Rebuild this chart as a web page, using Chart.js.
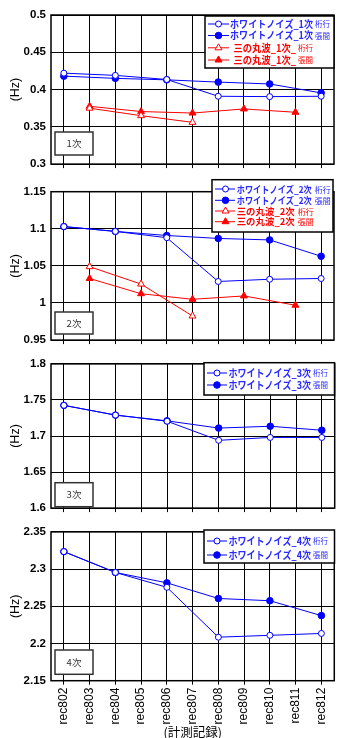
<!DOCTYPE html>
<html>
<head>
<meta charset="utf-8">
<script src="https://cdn.jsdelivr.net/npm/chart.js@4/dist/chart.umd.min.js"></script>
<style>
  html, body { margin: 0; padding: 0; background: #fff; }
  #wrap { position: relative; width: 339px; height: 738px; overflow: hidden; }
  #wrap canvas { position: absolute; left: 0; }
</style>
</head>
<body>
<div id="wrap">
  <canvas id="c1"></canvas>
  <canvas id="c2"></canvas>
  <canvas id="c3"></canvas>
  <canvas id="c4"></canvas>
</div>
<script>
// ---- data -------------------------------------------------------------
const records = ['rec802', 'rec803', 'rec804', 'rec805', 'rec806', 'rec807',
                 'rec808', 'rec809', 'rec810', 'rec811', 'rec812'];
const modeLabels = ['1次', '2次', '3次', '4次'];
const yTitle = '(Hz)';
const xTitle = '(計測記録)';

const hzTicks1 = [0.3, 0.35, 0.4, 0.45, 0.5];
const hzTicks2 = [0.95, 1, 1.05, 1.1, 1.15];
const hzTicks3 = [1.6, 1.65, 1.7, 1.75, 1.8];
const hzTicks4 = [2.15, 2.2, 2.25, 2.3, 2.35];

// 1次
const wn1Keta = [0.422, null, 0.419, null, 0.4135, null, 0.391, null, 0.3905, null, 0.391];
const wn1Hari = [0.418, null, 0.415, null, 0.413, null, 0.410, null, 0.4075, null, 0.3955];
const sm1Keta = [null, 0.375, null, 0.365, null, 0.356, null, null, null, null, null];
const sm1Hari = [null, 0.3775, null, 0.3705, null, 0.3685, null, 0.374, null, 0.3695, null];
const names1 = [['ホワイトノイズ_1次', '桁行'], ['ホワイトノイズ_1次', '張間'],
                ['三の丸波_1次_', '桁行'], ['三の丸波_1次_', '張間']];

// 2次
const wn2Keta = [1.103, null, 1.0965, null, 1.088, null, 1.029, null, 1.032, null, 1.033];
const wn2Hari = [1.103, null, 1.0965, null, 1.091, null, 1.087, null, 1.085, null, 1.063];
const sm2Keta = [null, 1.049, null, 1.0255, null, 0.9825, null, null, null, null, null];
const sm2Hari = [null, 1.033, null, 1.0125, null, 1.005, null, 1.0095, null, 0.997, null];
const names2 = [['ホワイトノイズ_2次', '桁行'], ['ホワイトノイズ_2次', '張間'],
                ['三の丸波_2次', '桁行'], ['三の丸波_2次', '張間']];

// 3次
const wn3Keta = [1.7425, null, 1.729, null, 1.7205, null, 1.694, null, 1.698, null, 1.698];
const wn3Hari = [1.7425, null, 1.729, null, 1.721, null, 1.711, null, 1.7135, null, 1.708];
const names3 = [['ホワイトノイズ_3次', '桁行'], ['ホワイトノイズ_3次', '張間']];

// 4次
const wn4Keta = [2.3235, null, 2.2955, null, 2.2755, null, 2.2085, null, 2.211, null, 2.2135];
const wn4Hari = [2.3235, null, 2.2955, null, 2.2815, null, 2.2605, null, 2.2575, null, 2.2375];
const names4 = [['ホワイトノイズ_4次', '桁行'], ['ホワイトノイズ_4次', '張間']];

// ---- styles -----------------------------------------------------------
const BLUE = '#0000ff';
const RED = '#ff0000';
const LEGEND_BLUE = '#2a2aff';
const CJK = '"Noto Sans CJK JP", sans-serif';
const SANS = '"Liberation Sans", Arial, sans-serif';

const seriesStyle = {
  wnOpen:   { color: BLUE, text: LEGEND_BLUE, fill: '#ffffff', shape: 'circle',   r: 3 },
  wnFilled: { color: BLUE, text: LEGEND_BLUE, fill: BLUE,      shape: 'circle',   r: 3.3 },
  smOpen:   { color: RED,  text: RED,         fill: '#ffffff', shape: 'triangle', r: 4 },
  smFilled: { color: RED,  text: RED,         fill: RED,       shape: 'triangle', r: 4 }
};

function makeDataset(values, name, styleKey) {
  const s = seriesStyle[styleKey];
  return {
    label: name.join(' '),
    nameParts: name,
    styleKey: styleKey,
    data: values,
    borderColor: s.color,
    borderWidth: 1,
    pointStyle: s.shape,
    pointRadius: s.r,
    pointHoverRadius: s.r,
    pointBorderColor: s.color,
    pointBackgroundColor: s.fill,
    pointBorderWidth: 1,
    spanGaps: true,
    tension: 0,
    fill: false
  };
}

// ---- drawing helpers ---------------------------------------------------
function drawMarker(ctx, shape, x, y, r, stroke, fill) {
  ctx.beginPath();
  if (shape === 'circle') {
    ctx.arc(x, y, r, 0, Math.PI * 2);
  } else {
    ctx.moveTo(x, y - r);
    ctx.lineTo(x + 0.866 * r, y + 0.5 * r);
    ctx.lineTo(x - 0.866 * r, y + 0.5 * r);
    ctx.closePath();
  }
  ctx.fillStyle = fill;
  ctx.fill();
  ctx.lineWidth = 1;
  ctx.strokeStyle = stroke;
  ctx.stroke();
}

// frame around the plot area, boxed legend and the mode caption box
const panelDecor = {
  id: 'panelDecor',
  beforeDatasetsDraw(chart, args, opts) {
    const { ctx, chartArea: a } = chart;
    ctx.save();
    ctx.strokeStyle = '#000';
    ctx.lineWidth = 1.5;
    ctx.strokeRect(a.left, a.top, a.right - a.left, a.bottom - a.top);

    // caption box ("1次" etc.)
    const m = opts.modeBox;
    const oy = opts.offsetY;
    ctx.fillStyle = '#fff';
    ctx.fillRect(m[0], m[1] - oy, m[2] - m[0], m[3] - m[1]);
    ctx.strokeStyle = '#333';
    ctx.lineWidth = 1.5;
    ctx.strokeRect(m[0], m[1] - oy, m[2] - m[0], m[3] - m[1]);
    ctx.fillStyle = '#333';
    ctx.font = '9.5px ' + CJK;
    ctx.textAlign = 'center';
    ctx.textBaseline = 'middle';
    ctx.fillText(opts.modeText, (m[0] + m[2]) / 2, (m[1] + m[3]) / 2 - oy);
    ctx.restore();
  },
  afterDatasetsDraw(chart, args, opts) {
    const { ctx } = chart;
    const L = opts.legend;
    const oy = opts.offsetY;
    ctx.save();
    const b = L.box;
    ctx.fillStyle = '#fff';
    ctx.fillRect(b[0], b[1] - oy, b[2] - b[0], b[3] - b[1]);
    ctx.strokeStyle = '#000';
    ctx.lineWidth = 1.5;
    ctx.strokeRect(b[0], b[1] - oy, b[2] - b[0], b[3] - b[1]);

    chart.data.datasets.forEach((ds, i) => {
      const s = seriesStyle[ds.styleKey];
      const y = L.rows[i] - oy;
      ctx.strokeStyle = s.color;
      ctx.lineWidth = 1;
      ctx.beginPath();
      ctx.moveTo(L.line[0], y);
      ctx.lineTo(L.line[1], y);
      ctx.stroke();
      drawMarker(ctx, s.shape, L.marker, y, s.r, s.color, s.fill);

      const [main, suffix] = ds.nameParts;
      const tx = L.textX[i];
      ctx.fillStyle = s.text;
      ctx.textAlign = 'left';
      ctx.textBaseline = 'middle';
      ctx.font = 'bold ' + L.mainPx + 'px ' + CJK;
      const natural = ctx.measureText(main).width;
      const w = Math.min(natural, L.mainW[i]);
      ctx.fillText(main, tx, y, L.mainW[i]);
      ctx.font = L.sufPx + 'px ' + CJK;
      ctx.fillText(suffix, tx + w + L.gap, y + 0.5, 16);
    });
    ctx.restore();
  }
};

// ---- panels -----------------------------------------------------------
const panels = [
  {
    id: 'c1', top: 0, height: 176, plotTop: 15, plotBottom: 167,
    ticks: hzTicks1, mode: modeLabels[0], showX: false,
    datasets: [makeDataset(wn1Keta, names1[0], 'wnOpen'), makeDataset(wn1Hari, names1[1], 'wnFilled'),
               makeDataset(sm1Keta, names1[2], 'smOpen'), makeDataset(sm1Hari, names1[3], 'smFilled')],
    modeBox: [55, 132, 93, 155],
    legend: { box: [205, 16, 334, 68], rows: [24, 35.5, 47.8, 60], line: [208, 229], marker: 218.5,
              textX: [230, 230, 233.5, 233.5], mainW: [83, 83, 62.5, 62.5], mainPx: 10, sufPx: 7.5, gap: 2 }
  },
  {
    id: 'c2', top: 176, height: 176, plotTop: 191.7, plotBottom: 345,
    ticks: hzTicks2, mode: modeLabels[1], showX: false,
    datasets: [makeDataset(wn2Keta, names2[0], 'wnOpen'), makeDataset(wn2Hari, names2[1], 'wnFilled'),
               makeDataset(sm2Keta, names2[2], 'smOpen'), makeDataset(sm2Hari, names2[3], 'smFilled')],
    modeBox: [55, 312, 93, 334],
    legend: { box: [212, 179.7, 333, 232], rows: [189, 200.3, 211, 221.7], line: [215, 235], marker: 225.5,
              textX: [236.7, 236.7, 236.7, 236.7], mainW: [75, 75, 58, 58], mainPx: 9.5, sufPx: 8, gap: 3 }
  },
  {
    id: 'c3', top: 352, height: 168, plotTop: 361, plotBottom: 513.3,
    ticks: hzTicks3, mode: modeLabels[2], showX: false,
    datasets: [makeDataset(wn3Keta, names3[0], 'wnOpen'), makeDataset(wn3Hari, names3[1], 'wnFilled')],
    modeBox: [55, 482.7, 93, 506.7],
    legend: { box: [204, 362.7, 334.5, 395], rows: [373, 385], line: [207, 227], marker: 217,
              textX: [228.5, 228.5], mainW: [82.5, 82.5], mainPx: 10.5, sufPx: 7.5, gap: 2 }
  },
  {
    id: 'c4', top: 520, height: 218, plotTop: 527.3, plotBottom: 680.7,
    ticks: hzTicks4, mode: modeLabels[3], showX: true,
    datasets: [makeDataset(wn4Keta, names4[0], 'wnOpen'), makeDataset(wn4Hari, names4[1], 'wnFilled')],
    modeBox: [55, 650, 93, 674.3],
    legend: { box: [204, 530, 334.5, 563], rows: [541, 555], line: [207, 227], marker: 217,
              textX: [228.5, 228.5], mainW: [82.5, 82.5], mainPx: 10.5, sufPx: 7.5, gap: 2 }
  }
];

const gridStyle = {
  color: '#000',
  lineWidth: 1,
  borderDash: [2, 1],
  tickBorderDash: [],
  tickColor: '#000',
  tickWidth: 1
};

panels.forEach(p => {
  const canvas = document.getElementById(p.id);
  canvas.width = 339;
  canvas.height = p.height;
  canvas.style.top = p.top + 'px';
  canvas.style.width = '339px';
  canvas.style.height = p.height + 'px';

  const xHeight = p.height - (p.plotBottom - p.top);
  const labelFor = v => {
    const i = p.ticks.findIndex(t => Math.abs(t - v) < 1e-9);
    return i >= 0 ? String(p.ticks[i]) : '';
  };

  new Chart(canvas, {
    type: 'line',
    data: { labels: records, datasets: p.datasets },
    options: {
      responsive: false,
      animation: false,
      devicePixelRatio: 1,
      layout: { padding: { top: p.plotTop - p.top, right: 2.5, left: 0, bottom: 0 } },
      plugins: {
        legend: { display: false },
        tooltip: { enabled: false },
        panelDecor: { offsetY: p.top, modeBox: p.modeBox, modeText: p.mode, legend: p.legend }
      },
      scales: {
        x: {
          type: 'category',
          offset: true,
          grid: Object.assign({}, gridStyle, { offset: false, drawTicks: true, tickLength: 4 }),
          border: { display: false },
          ticks: {
            display: p.showX,
            autoSkip: false,
            minRotation: 90,
            maxRotation: 90,
            padding: 3,
            color: '#000',
            font: { family: SANS, size: 12 }
          },
          title: {
            display: p.showX,
            text: xTitle,
            color: '#000',
            font: { family: CJK, size: 12.5, lineHeight: 1 },
            padding: { top: 0, bottom: 0 }
          },
          afterFit(scale) { scale.height = xHeight; }
        },
        y: {
          min: p.ticks[0],
          max: p.ticks[p.ticks.length - 1],
          grid: Object.assign({}, gridStyle, { drawTicks: false }),
          border: { display: false },
          afterBuildTicks(scale) { scale.ticks = p.ticks.map(v => ({ value: v })); },
          ticks: {
            padding: 5,
            color: '#000',
            font: { family: SANS, size: 11.5, weight: 'bold' },
            callback: v => labelFor(v)
          },
          title: {
            display: true,
            text: yTitle,
            color: '#000',
            font: { family: SANS, size: 12.5 },
            padding: { top: 8, bottom: 0 }
          },
          afterFit(scale) { scale.width = 51; }
        }
      }
    },
    plugins: [panelDecor]
  });
});
</script>
</body>
</html>
